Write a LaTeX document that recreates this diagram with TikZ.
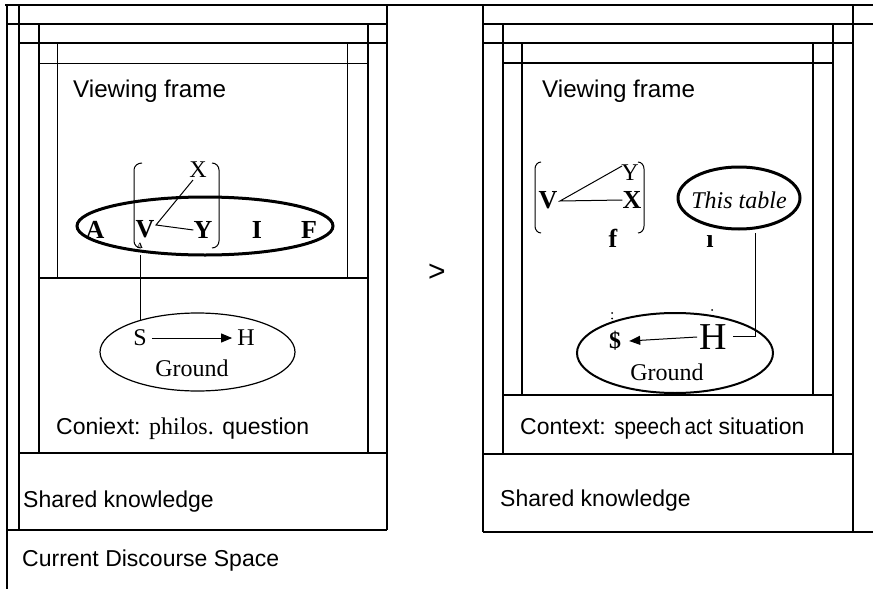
\documentclass[tikz,border=0pt]{standalone}
\usepackage{fontspec}
\setmainfont{Liberation Serif}
\newfontfamily\arial{Liberation Sans}
\usetikzlibrary{shapes.geometric,arrows.meta}
\begin{document}
\begin{tikzpicture}[x=1pt,y=-1pt,
  thinl/.style={line width=1pt},
  medl/.style={line width=1.4pt},
  thickl/.style={line width=2pt},
  lbl/.style={inner sep=0pt,anchor=base west,font=\arial\fontsize{23}{27}\selectfont},
  vfl/.style={inner sep=0pt,anchor=base west,font=\arial\fontsize{24.2}{28}\selectfont},
  bltr/.style={inner sep=0pt,font=\bfseries\fontsize{26}{30}\selectfont},
  rltr/.style={inner sep=0pt,font=\fontsize{24}{28}\selectfont},
  tiny/.style={inner sep=0pt,font=\bfseries\fontsize{8}{9}\selectfont},
  ell/.style={draw,ellipse,inner sep=0pt},
  arr/.style={line width=1pt,-{Triangle[length=11pt,width=9pt]}}
]
\fill[white] (0,0) rectangle (873,589);
\useasboundingbox (0,0) rectangle (873,589);

% ---------- left panel frames ----------
\draw[medl] (5,5) -- (873,5);
\draw[medl] (7,5) -- (7,589);
\draw[medl] (19,5) -- (19,530);
\draw[medl] (7,24) -- (387,24);
\draw[medl] (387,5) -- (387,530);
\draw[medl] (7,530) -- (387,530);
\draw[thickl] (39,24) -- (39,453);
\draw[thickl] (368,24) -- (368,453);
\draw[thickl] (19,43) -- (387,43);
\draw[thinl] (39,63) -- (368,63);
\draw[thinl] (57,43) -- (57,278);
\draw[thinl] (347,43) -- (347,278);
\draw[thickl] (39,278) -- (368,278);
\draw[thickl] (19,453) -- (387,453);

% ---------- right panel frames ----------
\draw[medl] (483,5) -- (483,532);
\draw[medl] (483,24) -- (873,24);
\draw[medl] (853,5) -- (853,532);
\draw[medl] (483,43) -- (853,43);
\draw[medl] (503,24) -- (503,454);
\draw[medl] (833,24) -- (833,454);
\draw[medl] (503,63) -- (833,63);
\draw[medl] (522,43) -- (522,395);
\draw[medl] (813,43) -- (813,395);
\draw[medl] (503,395) -- (833,395);
\draw[medl] (483,454) -- (853,454);
\draw[medl] (483,532) -- (873,532);

% ---------- left panel labels ----------
\node[vfl] (vf1) at (73,97) {Viewing frame};
\node[lbl] (ctx1) at (56,434) {Coniext: {\rmfamily\fontsize{24}{28}\selectfont philos.} question};
\node[lbl] (sk1) at (23,507) {Shared knowledge};
\node[lbl] (cds) at (22,566) {Current Discourse Space};

% left bracket
\draw[thinl] (142,163) to[out=180,in=90] (134,170) -- (134,241) to[out=-90,in=180] (141,248);
\draw[thinl] (212,163) to[out=0,in=90] (219,170) -- (219,241) to[out=-90,in=0] (212,248);

% left big ellipse
\node[ell,line width=3pt,minimum width=256pt,minimum height=58pt] (lel) at (205,226) {};
\node[bltr] (lA) at (95,230) {A};
\node[bltr] (lV) at (145,229) {V};
\node[bltr] (lY) at (203,230) {Y};
\node[bltr] (lI) at (257,230) {I};
\node[bltr] (lF) at (309,230) {F};
\node[rltr] (lX) at (198,170) {X};
\node[tiny] (la) at (140,246) {A};
\coordinate (lvj) at (156,225);
\coordinate (lxe) at (193,180);
\draw[thinl] (lxe) -- (lvj) -- (lY.west);

% left ground
\node[ell,line width=1.2pt,minimum width=195pt,minimum height=78pt] (lg) at (197.5,352) {};
\coordinate (lc1) at (140,255);
\coordinate (lc2) at (140,319.5);
\draw[thinl] (lc1) -- (lc2);
\node[rltr] (lS) at (140,338) {S};
\node[rltr] (lH) at (246,338) {H};
\draw[arr] ([xshift=5pt]lS.east) -- ([xshift=-5pt]lH.west);
\node[rltr] (lgt) at (192,368) {Ground};

% arrow sign between panels
\node[inner sep=0pt,font=\arial\fontsize{30}{34}\selectfont] (gt) at (437,273) {>};

% ---------- right panel labels ----------
\node[vfl] (vf2) at (542,97) {Viewing frame};
\node[lbl] (ctx2) at (520,434) {Context: \scalebox{0.9}[1]{speech\hspace{4pt}act} situation};
\node[lbl] (sk2) at (500,506) {Shared knowledge};

% right bracket
\draw[thinl] (541,162) to[out=180,in=90] (535,169) -- (535,226) to[out=-90,in=180] (541,233);
\draw[thinl] (638,162) to[out=0,in=90] (644,169) -- (644,226) to[out=-90,in=0] (638,233);
\node[bltr] (rV) at (548,200) {V};
\node[bltr] (rX) at (632,200) {X};
\node[rltr] (rY) at (630,173) {Y};
\node[bltr] (rf) at (613,238) {f};
\coordinate (rvj) at (560,201);
\coordinate (rye) at (622,166);
\draw[thinl] (rye) -- (rvj) -- (rX.west);

% this table
\node[ell,line width=3pt,minimum width=122pt,minimum height=62pt] (tt) at (739,198) {};
\node[inner sep=0pt,font=\itshape\fontsize{24}{28}\selectfont] (ttt) at (739,200) {This table};
\node[bltr] (ri) at (710,242) {\i};

% right ground
\node[ell,line width=2pt,minimum width=196pt,minimum height=80pt] (rg) at (675,353) {};
\node[inner sep=0pt,font=\bfseries\fontsize{24}{28}\selectfont] (rS) at (615,341) {\$};
\node[inner sep=0pt,font=\fontsize{38}{42}\selectfont] (rH) at (713,337) {H};
\fill (612,313) circle (1pt) (612,318.5) circle (1pt) (712,310) circle (1pt);
\draw[arr] ([xshift=-2pt]rH.west) -- ([xshift=8pt]rS.east);
\node[rltr] (rgt) at (667,372) {Ground};
\coordinate (q1) at (755,233);
\coordinate (q2) at (733,336);
\draw[thinl] (q1) |- (q2);
\end{tikzpicture}
\end{document}
